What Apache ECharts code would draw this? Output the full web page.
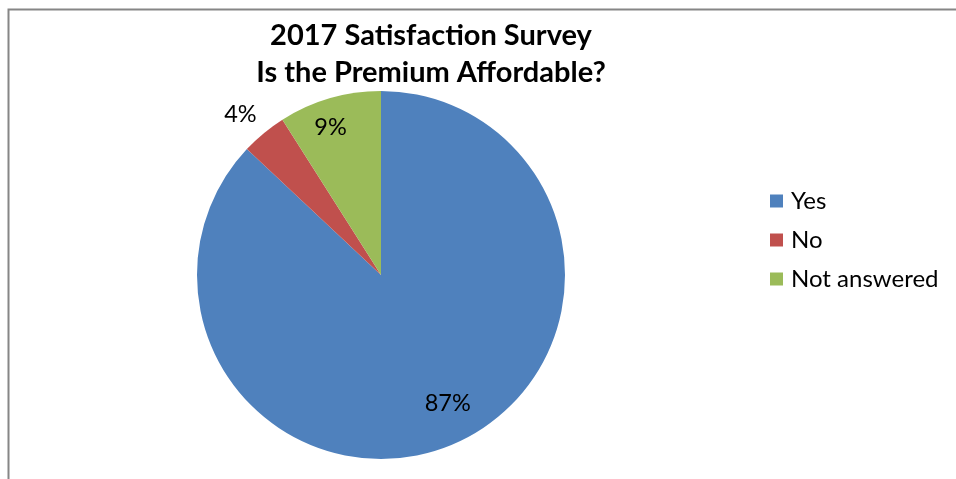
<!DOCTYPE html>
<html>
<head>
<meta charset="utf-8">
<script src="https://cdn.jsdelivr.net/npm/echarts@6/dist/echarts.min.js"></script>
<style>
html,body{margin:0;padding:0;background:#fff;}
#chart{width:956px;height:479px;}
</style>
</head>
<body>
<div id="chart"></div>
<script>
var titleLines = ['2017 Satisfaction Survey', 'Is the Premium Affordable?'];
var categories = ['Yes', 'No', 'Not answered'];
var values = [87, 4, 9];
var colors = ['#4F81BD', '#C0504D', '#9BBB59'];
// label offsets from default inside position (style only)
var labelShift = [[29, 41], [-80, -87], [-24, -56]];

var chart = echarts.init(document.getElementById('chart'), null, {renderer: 'canvas'});
var fontFam = 'Lato, "Open Sans", sans-serif';
chart.setOption({
  animation: false,
  title: {
    text: titleLines.join('\n'),
    left: 426,
    textAlign: 'center',
    top: 12,
    textStyle: {fontFamily: fontFam, fontWeight: 'bold', fontSize: 29, lineHeight: 37, color: '#000'}
  },
  legend: {
    orient: 'vertical',
    left: 765,
    top: 184,
    itemWidth: 13,
    itemHeight: 13,
    itemGap: 15,
    icon: 'rect',
    data: categories,
    textStyle: {fontFamily: fontFam, fontSize: 24, color: '#000', padding: [0, 0, 0, 3]}
  },
  graphic: [{
    type: 'polyline',
    shape: {points: [[8.5, 479], [8.5, 9.5], [956, 9.5]]},
    style: {stroke: '#868686', lineWidth: 2, fill: null},
    silent: true
  }],
  series: [{
    type: 'pie',
    center: [381, 275],
    radius: 184,
    startAngle: 90,
    clockwise: true,
    avoidLabelOverlap: false,
    data: categories.map(function (c, i) {
      return {name: c, value: values[i], itemStyle: {color: colors[i]}};
    }),
    label: {
      show: true,
      position: 'inside',
      formatter: '{d}%',
      fontFamily: fontFam,
      fontSize: 23.5,
      color: '#000'
    },
    labelLine: {show: false},
    labelLayout: function (p) {
      var s = labelShift[p.dataIndex];
      return {dx: s[0], dy: s[1]};
    },
    itemStyle: {borderWidth: 0}
  }]
});
</script>
</body>
</html>
